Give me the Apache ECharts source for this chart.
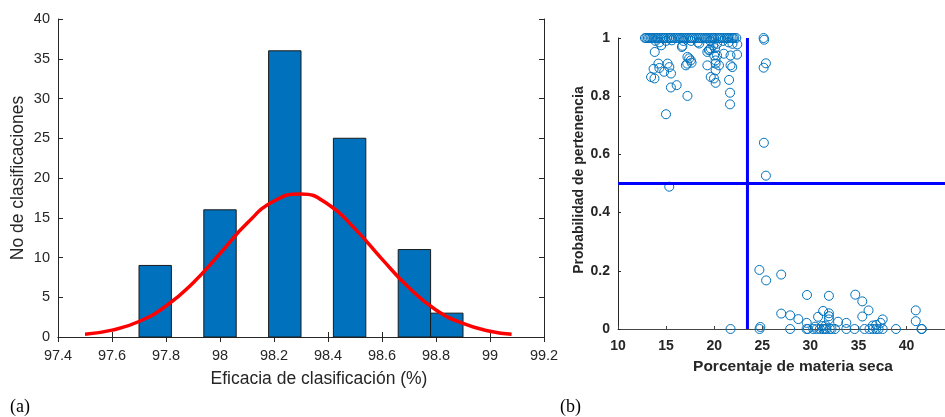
<!DOCTYPE html>
<html>
<head>
<meta charset="utf-8">
<script src="https://cdn.jsdelivr.net/npm/echarts@6/dist/echarts.min.js"></script>
<style>
html,body{margin:0;padding:0;background:#fff;}
#chart{width:945px;height:417px;}
</style>
</head>
<body>
<div id="chart"></div>
<script>
// ---------- Panel (a): histogram ----------
const binLeft  = [97.70, 97.94, 98.18, 98.42, 98.66, 98.78];
const binRight = [97.82, 98.06, 98.30, 98.54, 98.78, 98.90];
const binCount = [9, 16, 36, 25, 11, 3];
// fitted normal curve
const curveX = [97.5, 97.6, 97.7, 97.8, 97.9, 98.0, 98.1, 98.2, 98.3, 98.4, 98.5, 98.6, 98.7, 98.8, 98.9, 99.0, 99.08];
const curveY = [0.34, 0.86, 1.95, 3.9, 6.8, 10.5, 14.3, 17.1, 18.0, 16.7, 13.6, 9.8, 6.2, 3.4, 1.7, 0.72, 0.34];
const histXTicks = {min: 97.4, max: 99.2, interval: 0.2};
const histYTicks = {min: 0, max: 40, interval: 5};

// ---------- Panel (b): scatter ----------
const topRowX = [12.8, 12.95, 13.1, 13.25, 13.4, 13.55, 13.7, 13.9, 14.05, 14.2, 14.4, 14.6, 14.75, 14.9, 15.1, 15.3, 15.45, 15.6, 15.8, 16.0, 16.2, 16.4, 16.55, 16.7, 16.9, 17.1, 17.3, 17.5, 17.65, 17.8, 18.0, 18.2, 18.4, 18.6, 18.8, 19.0, 19.15, 19.3, 19.5, 19.7, 19.85, 20.0, 20.2, 20.4, 20.55, 20.7, 20.9, 21.1, 21.3, 21.45, 21.6, 21.8, 21.95, 22.1, 22.3, 25.14];
const upperPoints = [
  [13.9,0.99],[14.3,0.985],[14.5,0.975],[15.0,0.99],[15.6,0.992],[16.64,0.969],[16.8,0.99],[17.6,0.99],
  [18.3,0.985],[18.45,0.981],[19.6,0.99],[19.9,0.975],[20.3,0.98],[20.9,0.99],[21.5,0.985],[21.9,0.98],[22.4,0.978],
  [20.1,0.965],[19.5,0.96],[13.82,0.952],[14.2,0.912],[13.7,0.894],[13.44,0.866],[13.79,0.861],[14.3,0.897],
  [14.8,0.884],[15.16,0.912],[15.51,0.878],[15.34,0.9],[15.5,0.83],[16.1,0.838],[14.99,0.738],[17.22,0.801],
  [17.06,0.906],[17.2,0.912],[17.22,0.935],[17.4,0.93],[17.57,0.923],[17.65,0.915],[16.7,0.973],
  [19.29,0.952],[19.45,0.958],[19.64,0.964],[19.29,0.906],[20.15,0.912],[20.5,0.906],[20.0,0.94],[20.3,0.94],
  [21.0,0.946],[21.7,0.94],[22.38,0.943],[21.7,0.906],[21.88,0.9],[19.64,0.866],[19.98,0.861],[20.15,0.846],
  [20.15,0.889],[20.15,0.923],[21.55,0.856],[21.65,0.812],[21.65,0.772],
  [25.2,0.994],[25.38,0.913],[25.14,0.898],[25.17,0.64],[25.38,0.527],[15.33,0.489]
];
const lowerPoints = [
  [24.7,0.203],[25.4,0.167],[26.97,0.187],[29.65,0.117],[31.93,0.114],[34.67,0.118],[35.4,0.095],[36.05,0.064],
  [35.4,0.043],[26.97,0.053],[27.9,0.047],[28.75,0.034],[29.62,0.021],[30.8,0.042],[31.33,0.062],[31.93,0.054],
  [31.93,0.044],[31.93,0.033],[32.88,0.025],[33.74,0.021],[37.52,0.033],[37.3,0.021],[40.96,0.064],[40.96,0.027],
  [36.5,0.012],[36.84,0.014],[31.6,0.012],[30.5,0.008],[31.2,0.01],[24.8,0.007]
];
const zeroRowX = [21.7, 24.72, 27.9, 29.61, 29.75, 30.3, 30.64, 30.99, 31.33, 31.5, 31.67, 32.02, 32.2, 32.56, 33.74, 34.6, 35.63, 36.15, 36.5, 36.84, 37.1, 37.52, 38.9, 41.55, 41.6];
const thresholdX = 23.46;
const thresholdY = 0.5;
const scatXTicks = {min: 10, max: 44, interval: 5};
const scatYTicks = {min: 0, max: 1, interval: 0.2};

const scatterData = []
  .concat(topRowX.map(x => [x, 1]))
  .concat(upperPoints)
  .concat(lowerPoints)
  .concat(zeroRowX.map(x => [x, 0]));
const histData = binLeft.map((l, i) => [l, binRight[i], binCount[i]]);
const curveData = curveX.map((x, i) => [x, curveY[i]]);

const axisCol = '#262626';
const chart = echarts.init(document.getElementById('chart'), null, {renderer: 'canvas'});
const fmt = v => String(Number(v.toFixed(2)));

chart.setOption({
  animation: false,
  backgroundColor: '#fff',
  grid: [
    {left: 58, top: 19, width: 486, height: 318, containLabel: false},
    {left: 618, top: 38, width: 330, height: 291, containLabel: false}
  ],
  xAxis: [
    {gridIndex: 0, type: 'value', position: 'bottom', min: histXTicks.min, max: histXTicks.max, interval: histXTicks.interval,
     axisLine: {lineStyle: {color: axisCol, width: 1}}, axisTick: {inside: true, length: 5, lineStyle: {color: axisCol}},
     axisLabel: {fontFamily: 'Liberation Sans, Arial', fontSize: 14.5, color: axisCol, margin: 11, formatter: fmt},
     splitLine: {show: false}},
    {gridIndex: 0, type: 'value', position: 'top', min: histXTicks.min, max: histXTicks.max, interval: histXTicks.interval,
     axisLine: {lineStyle: {color: axisCol, width: 1}}, axisTick: {inside: true, length: 5, lineStyle: {color: axisCol}},
     axisLabel: {show: false}, splitLine: {show: false}},
    {gridIndex: 1, type: 'value', position: 'bottom', min: scatXTicks.min, max: scatXTicks.max, interval: scatXTicks.interval,
     axisLine: {lineStyle: {color: '#444', width: 1}}, axisTick: {inside: true, length: 3, lineStyle: {color: '#444'}},
     axisLabel: {fontFamily: 'Liberation Sans, Arial', fontWeight: 'bold', fontSize: 14, color: axisCol, margin: 10, showMaxLabel: false},
     splitLine: {show: false}}
  ],
  yAxis: [
    {gridIndex: 0, type: 'value', position: 'left', min: histYTicks.min, max: histYTicks.max, interval: histYTicks.interval,
     axisLine: {show: true, lineStyle: {color: axisCol, width: 1}}, axisTick: {show: true, inside: true, length: 5, lineStyle: {color: axisCol}},
     axisLabel: {fontFamily: 'Liberation Sans, Arial', fontSize: 14.5, color: axisCol, margin: 8},
     splitLine: {show: false}},
    {gridIndex: 0, type: 'value', position: 'right', min: histYTicks.min, max: histYTicks.max, interval: histYTicks.interval,
     axisLine: {show: true, lineStyle: {color: axisCol, width: 1}}, axisTick: {show: true, inside: true, length: 5, lineStyle: {color: axisCol}},
     axisLabel: {show: false}, splitLine: {show: false}},
    {gridIndex: 1, type: 'value', position: 'left', min: scatYTicks.min, max: scatYTicks.max, interval: scatYTicks.interval,
     axisLine: {show: true, lineStyle: {color: axisCol, width: 1}}, axisTick: {show: true, inside: true, length: 3, lineStyle: {color: axisCol}},
     axisLabel: {fontFamily: 'Liberation Sans, Arial', fontWeight: 'bold', fontSize: 14, color: axisCol, margin: 8, formatter: fmt},
     splitLine: {show: false}}
  ],
  series: [
    {type: 'custom', xAxisIndex: 0, yAxisIndex: 0, data: histData, clip: false,
     renderItem: function (params, api) {
       const p0 = api.coord([api.value(0), api.value(2)]);
       const p1 = api.coord([api.value(1), 0]);
       return {type: 'rect', shape: {x: p0[0], y: p0[1], width: p1[0] - p0[0], height: p1[1] - p0[1]},
               style: {fill: '#0072BD', stroke: '#1a1a1a', lineWidth: 1}};
     }},
    {type: 'line', xAxisIndex: 0, yAxisIndex: 0, data: curveData, smooth: true, symbol: 'none',
     lineStyle: {color: '#FF0000', width: 3.5}, z: 5},
    {type: 'scatter', xAxisIndex: 2, yAxisIndex: 2, data: scatterData, symbol: 'circle', symbolSize: 9, clip: false,
     itemStyle: {color: 'rgba(0,0,0,0)', borderColor: '#0072BD', borderWidth: 1, opacity: 1}},
    {type: 'line', xAxisIndex: 2, yAxisIndex: 2, data: [[thresholdX, scatYTicks.min], [thresholdX, scatYTicks.max]], symbol: 'none',
     lineStyle: {color: '#0000FF', width: 3}, z: 6},
    {type: 'line', xAxisIndex: 2, yAxisIndex: 2, data: [[scatXTicks.min, thresholdY], [scatXTicks.max, thresholdY]], symbol: 'none',
     lineStyle: {color: '#0000FF', width: 3}, z: 6}
  ],
  graphic: [
    {type: 'text', x: 319, y: 379, style: {text: 'Eficacia de clasificación (%)', fontFamily: 'Liberation Sans, Arial', fontSize: 17.5, fill: axisCol, align: 'center', verticalAlign: 'middle'}},
    {type: 'text', x: 18, y: 178, rotation: Math.PI / 2, style: {text: 'No de clasificaciones', fontFamily: 'Liberation Sans, Arial', fontSize: 17.5, fill: axisCol, align: 'center', verticalAlign: 'middle'}},
    {type: 'text', x: 793, y: 367, style: {text: 'Porcentaje de materia seca', fontFamily: 'Liberation Sans, Arial', fontWeight: 'bold', fontSize: 15.5, fill: axisCol, align: 'center', verticalAlign: 'middle'}},
    {type: 'text', x: 579, y: 180, rotation: Math.PI / 2, style: {text: 'Probabilidad de pertenencia', fontFamily: 'Liberation Sans, Arial', fontWeight: 'bold', fontSize: 14, fill: axisCol, align: 'center', verticalAlign: 'middle'}},
    {type: 'text', x: 10, y: 407, style: {text: '(a)', fontFamily: 'Liberation Serif, Times New Roman', fontSize: 18, fill: '#000', align: 'left', verticalAlign: 'middle'}},
    {type: 'text', x: 560, y: 407, style: {text: '(b)', fontFamily: 'Liberation Serif, Times New Roman', fontSize: 18, fill: '#000', align: 'left', verticalAlign: 'middle'}}
  ]
});
</script>
</body>
</html>
